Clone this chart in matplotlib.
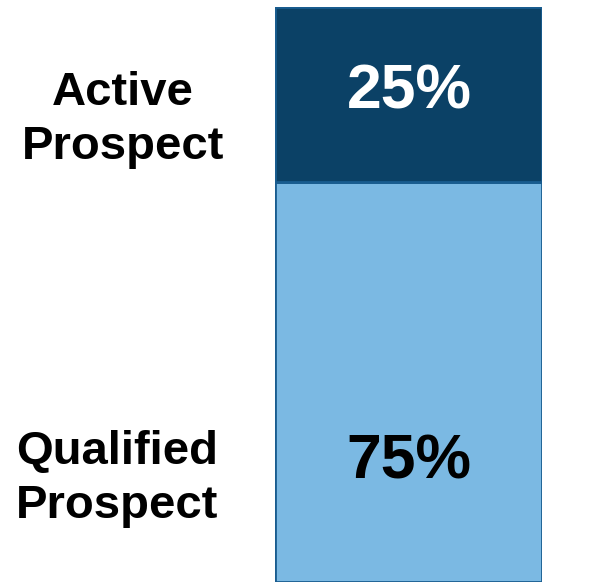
import matplotlib.pyplot as plt
import numpy as np

plt.rcParams['font.family'] = ['Liberation Sans', 'DejaVu Sans']

categories = ['Qualified\nProspect', 'Active\nProspect']
values = [75, 25]
labels = ['75%', '25%']

# the picture does not draw the segments to scale: the bottom 75 takes ~400px, the top 25 ~175px
def fwd(y):
    y = np.asarray(y, dtype=float)
    return np.where(y <= 75, y * 400 / 75, 400 + (y - 75) * 175 / 25)

def inv(v):
    v = np.asarray(v, dtype=float)
    return np.where(v <= 400, v * 75 / 400, 75 + (v - 400) * 25 / 175)

fig = plt.figure(figsize=(6.05, 5.84), dpi=100)
ax = fig.add_axes([275 / 605, 2 / 584, 267 / 605, 575 / 584])
ax.set_yscale('function', functions=(fwd, inv))

colors = ['#7BB9E3', '#0B4166']
text_colors = ['black', 'white']
bottom = 0
for i in range(len(values)):
    ax.bar(0, values[i], bottom=bottom, width=1, color=colors[i],
           edgecolor='#195C8F', linewidth=2)
    bottom += values[i]

ax.set_xlim(-0.5, 0.5)
ax.set_ylim(0, sum(values))
ax.axis('off')

# percent labels inside the bar
fig.text(409 / 605, 1 - 462 / 584, labels[0], color=text_colors[0], fontsize=45,
         fontweight='bold', ha='center', va='center')
fig.text(409 / 605, 1 - 92 / 584, labels[1], color=text_colors[1], fontsize=45,
         fontweight='bold', ha='center', va='center')

# category labels on the left
fig.text(117 / 605, 1 - 479 / 584, categories[0], fontsize=34, fontweight='bold',
         ha='center', va='center', linespacing=1.3)
fig.text(123 / 605, 1 - 120 / 584, categories[1], fontsize=34, fontweight='bold',
         ha='center', va='center', linespacing=1.3)

fig.savefig('out.png', dpi=100)
